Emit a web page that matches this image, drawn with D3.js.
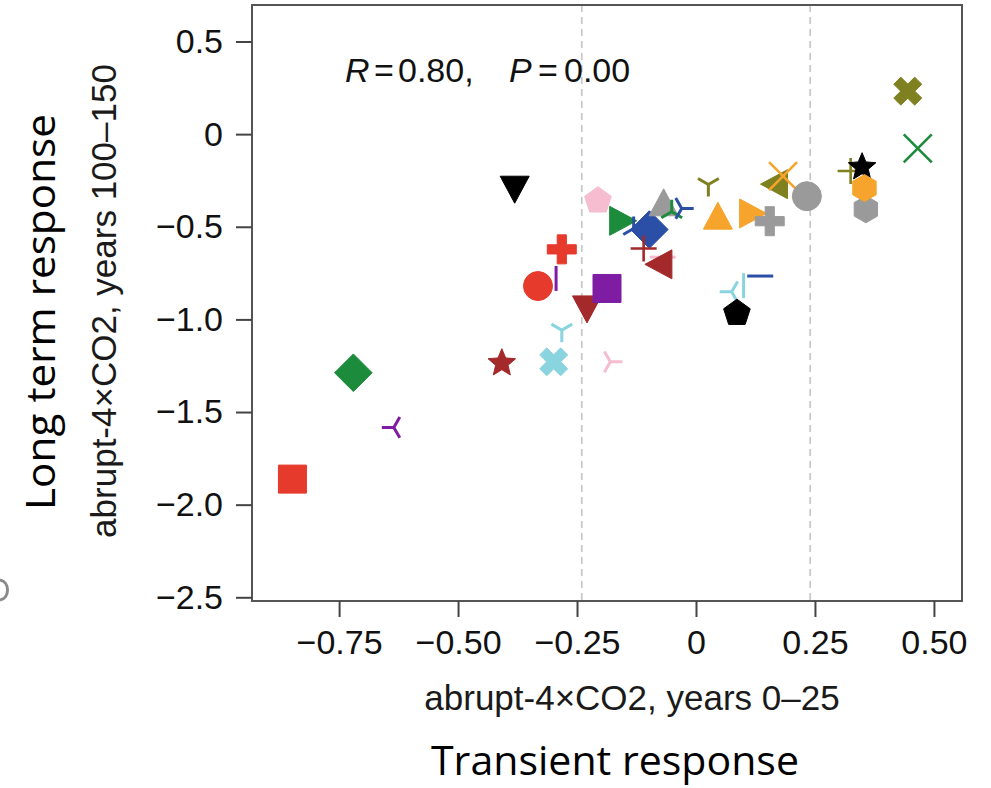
<!DOCTYPE html>
<html>
<head>
<meta charset="utf-8">
<script src="https://cdn.jsdelivr.net/npm/d3@7"></script>
<style>
  body { margin: 0; background: #fff; }
  svg { display: block; }
</style>
</head>
<body>
<svg id="chart" width="991" height="788"></svg>
<script>
// Model responses: transient (abrupt-4xCO2, years 0–25) vs long-term (years 100–150)
const transient = [
  -0.848, -0.720, -0.635, -0.408, -0.381, -0.332, -0.282, -0.294, -0.282, -0.299,
  -0.229, -0.187, -0.206, -0.180, -0.153, -0.131, -0.098, -0.110, -0.070, -0.079,
  -0.068, -0.051, -0.030,  0.026,  0.046,  0.120,  0.155,  0.164,  0.183,  0.233,
   0.075,  0.100,  0.135,  0.086,  0.325,  0.349,  0.357,  0.354,  0.445,  0.466
];
const longTerm = [
  -1.862, -1.288, -1.583, -1.229, -0.300, -0.820, -0.622, -0.779, -1.058, -1.229,
  -0.946, -0.833, -0.352, -1.229, -0.468, -0.509, -0.515, -0.617, -0.664, -0.703,
  -0.368, -0.419, -0.401, -0.272, -0.440, -0.428, -0.470, -0.270, -0.227, -0.335,
  -0.851, -0.818, -0.766, -0.959, -0.199, -0.171, -0.406, -0.291,  0.232, -0.077
];
// Marker symbol of each model
const symbolKey = [
  "square", "diamond", "triLeft", "star", "triangleDown", "circle", "plusBold", "vline", "triDown", "crossBold",
  "triangleDown", "square", "pentagon", "triRight", "triangleRight", "triUp", "diamond", "plus", "hline", "triangleLeft",
  "triangleUp", "triUp", "triRight", "triDown", "triangleUp", "triangleRight", "plusBold", "triangleLeft", "cross", "circle",
  "triLeft", "vline", "hline", "pentagon", "plus", "star", "hexagon", "hexagon", "crossBold", "cross"
];
// Colour family of each model
const hueKey = [
  "red", "green", "purple", "brown", "black", "red", "red", "purple", "cyan", "cyan",
  "brown", "purple", "pink", "pink", "green", "blue", "blue", "brown", "pink", "brown",
  "gray", "green", "blue", "olive", "orange", "orange", "gray", "olive", "orange", "gray",
  "cyan", "cyan", "blue", "black", "olive", "black", "gray", "orange", "olive", "green"
];

const xDomain = [-0.933, 0.559];
const yDomain = [-2.52, 0.697];
const xTicks = [-0.75, -0.5, -0.25, 0, 0.25, 0.5];
const xTickLabels = ["\u22120.75", "\u22120.50", "\u22120.25", "0", "0.25", "0.50"];
const yTicks = [0.5, 0, -0.5, -1, -1.5, -2, -2.5];
const yTickLabels = ["0.5", "0", "\u22120.5", "\u22121.0", "\u22121.5", "\u22122.0", "\u22122.5"];
const thresholds = [-0.24, 0.24];
const corrR = "0.80";
const corrP = "0.00";

const hueNames = ["red", "green", "purple", "brown", "black", "cyan", "pink", "blue", "gray", "orange", "olive"];
const hueValues = ["#e63a2c", "#1c8c3c", "#7e1da4", "#a3292b", "#000000", "#8ad4e0", "#f6bccf", "#2b4ea7", "#9a9a9a", "#f6a42b", "#7f8121"];
const colour = d3.scaleOrdinal().domain(hueNames).range(hueValues);

const svg = d3.select("#chart");
const box = { left: 252, right: 962, top: 5, bottom: 601 };
const x = d3.scaleLinear().domain(xDomain).range([box.left, box.right]);
const y = d3.scaleLinear().domain(yDomain).range([box.bottom, box.top]);

const axisFont = "'Liberation Sans', Arial, Helvetica, sans-serif";
const titleFont = "'Open Sans', 'Noto Sans', sans-serif";

// Dashed reference lines at the transient thresholds
svg.append("g").selectAll("line").data(thresholds).join("line")
  .attr("x1", d => x(d)).attr("x2", d => x(d))
  .attr("y1", box.top).attr("y2", box.bottom)
  .attr("stroke", "#c8c8c8").attr("stroke-width", 1.7)
  .attr("stroke-dasharray", "7,5");

// Frame around the panel
svg.append("rect")
  .attr("x", box.left).attr("y", box.top)
  .attr("width", box.right - box.left).attr("height", box.bottom - box.top)
  .attr("fill", "none").attr("stroke", "#555").attr("stroke-width", 2);

// Axes
const yAxis = svg.append("g")
  .attr("transform", `translate(${box.left},0)`)
  .call(d3.axisLeft(y).tickValues(yTicks).tickFormat((d, i) => yTickLabels[i]).tickSize(16).tickPadding(13));
const xAxis = svg.append("g")
  .attr("transform", `translate(0,${box.bottom})`)
  .call(d3.axisBottom(x).tickValues(xTicks).tickFormat((d, i) => xTickLabels[i]).tickSize(16).tickPadding(13));
[xAxis, yAxis].forEach(g => {
  g.select(".domain").remove();
  g.selectAll(".tick line").attr("stroke", "#444").attr("stroke-width", 2);
  g.selectAll(".tick text").attr("fill", "#111").attr("font-family", axisFont).attr("font-size", 34);
});

// Marker geometry
function poly(pts) { return "M" + pts.map(p => p[0].toFixed(2) + "," + p[1].toFixed(2)).join("L") + "Z"; }
function ngon(n, r, rot, dy) {
  const pts = [];
  for (let k = 0; k < n; k++) {
    const a = rot + k * 2 * Math.PI / n;
    pts.push([r * Math.cos(a), r * Math.sin(a) + dy]);
  }
  return poly(pts);
}
function starPath(R, ratio) {
  const pts = [];
  const dy = R * (1 - Math.cos(Math.PI / 5)) / 2;
  for (let k = 0; k < 10; k++) {
    const a = -Math.PI / 2 + k * Math.PI / 5;
    const r = k % 2 === 0 ? R : R * ratio;
    pts.push([r * Math.cos(a), r * Math.sin(a) + dy]);
  }
  return poly(pts);
}
function barCross(a, t, angle) {
  const base = [[-t, -a], [t, -a], [t, -t], [a, -t], [a, t], [t, t], [t, a], [-t, a], [-t, t], [-a, t], [-a, -t], [-t, -t]];
  const c = Math.cos(angle), s = Math.sin(angle);
  return poly(base.map(([px, py]) => [px * c - py * s, px * s + py * c]));
}
function triArms(stemAngle) {
  const L = 12;
  let d = "";
  for (let k = 0; k < 3; k++) {
    const a = stemAngle + k * 2 * Math.PI / 3;
    d += `M0,0L${(L * Math.cos(a)).toFixed(2)},${(L * Math.sin(a)).toFixed(2)}`;
  }
  return d;
}
const tw = 29, th = 27;
const shapes = {
  square: { d: poly([[-14, -14], [14, -14], [14, 14], [-14, 14]]), fill: true },
  circle: { d: "M14.5,0A14.5,14.5 0 1,1 -14.5,0A14.5,14.5 0 1,1 14.5,0Z", fill: true },
  diamond: { d: poly([[0, -18.8], [18.8, 0], [0, 18.8], [-18.8, 0]]), fill: true },
  triangleUp: { d: poly([[0, -th / 2], [tw / 2, th / 2], [-tw / 2, th / 2]]), fill: true },
  triangleDown: { d: poly([[0, th / 2], [tw / 2, -th / 2], [-tw / 2, -th / 2]]), fill: true },
  triangleLeft: { d: poly([[-th / 2, 0], [th / 2, -tw / 2], [th / 2, tw / 2]]), fill: true },
  triangleRight: { d: poly([[th / 2, 0], [-th / 2, -tw / 2], [-th / 2, tw / 2]]), fill: true },
  pentagon: { d: ngon(5, 14, -Math.PI / 2, 14 * (1 - Math.cos(Math.PI / 5)) / 2), fill: true },
  hexagon: { d: ngon(6, 13.5, -Math.PI / 2, 0), fill: true },
  star: { d: starPath(14.5, 0.45), fill: true },
  plusBold: { d: barCross(14.5, 4.6, 0), fill: true },
  crossBold: { d: barCross(14.8, 5, Math.PI / 4), fill: true },
  plus: { d: "M-13,0L13,0M0,-13L0,13", fill: false },
  cross: { d: "M-14,-14L14,14M-14,14L14,-14", fill: false },
  vline: { d: "M0,-12.5L0,12.5", fill: false },
  hline: { d: "M-13,0L13,0", fill: false },
  triUp: { d: triArms(-Math.PI / 2), fill: false },
  triDown: { d: triArms(Math.PI / 2), fill: false },
  triLeft: { d: triArms(Math.PI), fill: false },
  triRight: { d: triArms(0), fill: false }
};

const points = transient.map((t, i) => ({ t, l: longTerm[i], s: symbolKey[i], h: hueKey[i] }));

svg.append("g").selectAll("path").data(points).join("path")
  .attr("transform", d => `translate(${x(d.t)},${y(d.l)})`)
  .attr("d", d => shapes[d.s].d)
  .attr("fill", d => shapes[d.s].fill ? colour(d.h) : "none")
  .attr("stroke", d => colour(d.h))
  .attr("stroke-width", d => shapes[d.s].fill ? 1 : (d.s === "plus" || d.s === "cross" ? 2.6 : 3))
  .attr("stroke-linejoin", "round");

// Correlation annotation
const ann = svg.append("text")
  .attr("y", 82)
  .attr("font-family", axisFont).attr("font-size", 34).attr("fill", "#111");
ann.append("tspan").attr("x", 345).attr("font-style", "italic").text("R");
ann.append("tspan").attr("x", 374).text("=");
ann.append("tspan").attr("x", 398).text(corrR + ",");
ann.append("tspan").attr("x", 509).attr("font-style", "italic").text("P");
ann.append("tspan").attr("x", 538).text("=");
ann.append("tspan").attr("x", 564).text(corrP);

// Axis titles
svg.append("text")
  .attr("x", 632).attr("y", 710).attr("text-anchor", "middle")
  .attr("font-family", axisFont).attr("font-size", 35).attr("fill", "#1a1a1a")
  .text("abrupt-4\u00d7CO2, years 0\u201325");
svg.append("text")
  .attr("x", 615).attr("y", 775).attr("text-anchor", "middle")
  .attr("font-family", titleFont).attr("font-size", 40).attr("fill", "#000")
  .attr("textLength", 368).attr("lengthAdjust", "spacingAndGlyphs")
  .text("Transient response");
svg.append("text")
  .attr("transform", "translate(116,301) rotate(-90)").attr("text-anchor", "middle")
  .attr("font-family", axisFont).attr("font-size", 35).attr("fill", "#1a1a1a")
  .text("abrupt-4\u00d7CO2, years 100\u2013150");
svg.append("text")
  .attr("transform", "translate(55,312) rotate(-90)").attr("text-anchor", "middle")
  .attr("font-family", titleFont).attr("font-size", 41).attr("fill", "#000")
  .attr("textLength", 396).attr("lengthAdjust", "spacingAndGlyphs")
  .text("Long term response");

// Edge of a neighbouring panel's letter at the left border
svg.append("path")
  .attr("d", "M0,580C10,582 10,598 0,600")
  .attr("fill", "none").attr("stroke", "#8a8a8a").attr("stroke-width", 3);
</script>
</body>
</html>
